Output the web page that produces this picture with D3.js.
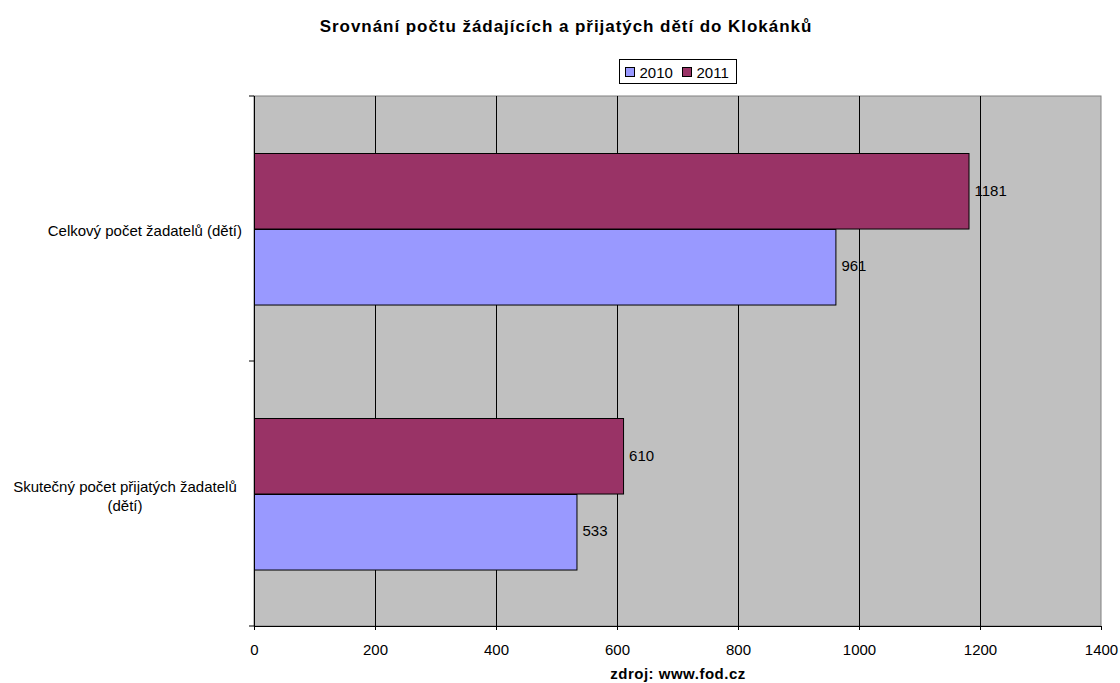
<!DOCTYPE html>
<html>
<head>
<meta charset="utf-8">
<script src="https://cdn.jsdelivr.net/npm/d3@7"></script>
<style>
  body { margin: 0; background: #fff; }
  text { font-family: "Liberation Sans", Arial, sans-serif; }
</style>
</head>
<body>
<div id="chart"></div>
<script>
// data
var categories = ["Celkový počet žadatelů (dětí)", "Skutečný počet přijatých žadatelů (dětí)"];
var series = ["2011", "2010"];
var values2010 = [961, 533];
var values2011 = [1181, 610];
var xTicks = [0, 200, 400, 600, 800, 1000, 1200, 1400];
var colors = {"2010": "#9999FF", "2011": "#993366"};

var width = 1120, height = 683;
var margin = {top: 96, right: 19, bottom: 57, left: 254};
var plotW = width - margin.left - margin.right;
var plotH = height - margin.top - margin.bottom;

var svg = d3.select("#chart").append("svg")
    .attr("width", width)
    .attr("height", height);

svg.append("text")
    .attr("x", 566)
    .attr("y", 32)
    .attr("text-anchor", "middle")
    .attr("font-size", "17px")
    .attr("letter-spacing", "0.95px")
    .attr("font-weight", "bold")
    .text("Srovnání počtu žádajících a přijatých dětí do Klokánků");

var xscale = d3.scaleLinear().domain([0, 1400]).range([0, plotW]);
var yscale = d3.scaleBand().domain(categories).range([0, plotH]);
var inner = d3.scaleBand().domain(series).range([yscale.bandwidth() * 0.215, yscale.bandwidth() * 0.785]);

var g = svg.append("g").attr("transform", "translate(" + margin.left + "," + margin.top + ")");

g.append("rect")
    .attr("width", plotW)
    .attr("height", plotH)
    .attr("fill", "#C0C0C0")
    .attr("stroke", "#808080")
    .attr("stroke-width", 1);

// grid
g.selectAll(".grid")
  .data(xTicks.slice(1, -1))
  .join("line")
    .attr("x1", function(d) { return Math.round(xscale(d)) + 0.5; })
    .attr("x2", function(d) { return Math.round(xscale(d)) + 0.5; })
    .attr("y1", 0)
    .attr("y2", plotH)
    .attr("stroke", "#000")
    .attr("stroke-width", 1);

// bars
var rows = [];
categories.forEach(function(c, i) {
  rows.push({cat: c, s: "2011", v: values2011[i]});
  rows.push({cat: c, s: "2010", v: values2010[i]});
});

g.selectAll(".bar")
  .data(rows)
  .join("rect")
    .attr("class", "bar")
    .attr("x", 0.5)
    .attr("y", function(d) { return Math.round(yscale(d.cat) + inner(d.s)) + 0.5; })
    .attr("width", function(d) { return xscale(d.v); })
    .attr("height", inner.bandwidth())
    .attr("fill", function(d) { return colors[d.s]; })
    .attr("stroke", "#000")
    .attr("stroke-width", 1);

g.selectAll(".lbl")
  .data(rows)
  .join("text")
    .attr("x", function(d) { return xscale(d.v) + 6; })
    .attr("y", function(d) { return yscale(d.cat) + inner(d.s) + inner.bandwidth() / 2; })
    .attr("dy", "0.33em")
    .attr("font-size", "15px")
    .text(function(d) { return d.v; });

// axes
var xAxis = g.append("g")
    .attr("transform", "translate(0," + plotH + ")")
    .call(d3.axisBottom(xscale).tickValues(xTicks).tickSize(4).tickFormat(d3.format("d")));
xAxis.selectAll("text").attr("font-size", "15px").attr("fill", "#000")
    .attr("font-family", "Liberation Sans, Arial, sans-serif")
    .attr("y", 29).attr("dy", 0);
xAxis.select(".domain").attr("stroke", "#000");

var yTickPos = [0, yscale.bandwidth(), plotH];
g.selectAll(".ytick")
  .data(yTickPos)
  .join("line")
    .attr("x1", -5).attr("x2", 0)
    .attr("y1", function(d) { return d; }).attr("y2", function(d) { return d; })
    .attr("stroke", "#000");
g.append("line")
    .attr("x1", 0.5).attr("x2", 0.5)
    .attr("y1", 0).attr("y2", plotH)
    .attr("stroke", "#000");

// category labels
var catLines = [["Celkový počet žadatelů (dětí)"], ["Skutečný počet přijatých žadatelů", "(dětí)"]];
categories.forEach(function(c, i) {
  var lines = catLines[i];
  var cy = yscale(c) + yscale.bandwidth() / 2;
  var t = g.append("text")
      .attr("font-size", "15px")
      .attr("text-anchor", lines.length > 1 ? "middle" : "end")
      .attr("y", cy - (lines.length - 1) * 9.5);
  lines.forEach(function(l, j) {
    t.append("tspan").attr("x", lines.length > 1 ? -129 : -12).attr("dy", j === 0 ? "0.5em" : "19px").text(l);
  });
});

// legend
var leg = svg.append("g").attr("transform", "translate(619.5,59.5)");
leg.append("rect").attr("width", 117).attr("height", 24).attr("fill", "#fff").attr("stroke", "#000");
["2010", "2011"].forEach(function(s, i) {
  var lg = leg.append("g").attr("transform", "translate(" + (6 + i * 57) + ",0)");
  lg.append("rect").attr("x", 0).attr("y", 8).attr("width", 9).attr("height", 9)
    .attr("fill", colors[s]).attr("stroke", "#000");
  lg.append("text").attr("x", 14).attr("y", 18).attr("font-size", "15px").text(s);
});

svg.append("text")
    .attr("x", 678)
    .attr("y", 679)
    .attr("text-anchor", "middle")
    .attr("font-size", "15px")
    .attr("letter-spacing", "0.5px")
    .attr("font-weight", "bold")
    .text("zdroj: www.fod.cz");
</script>
</body>
</html>
